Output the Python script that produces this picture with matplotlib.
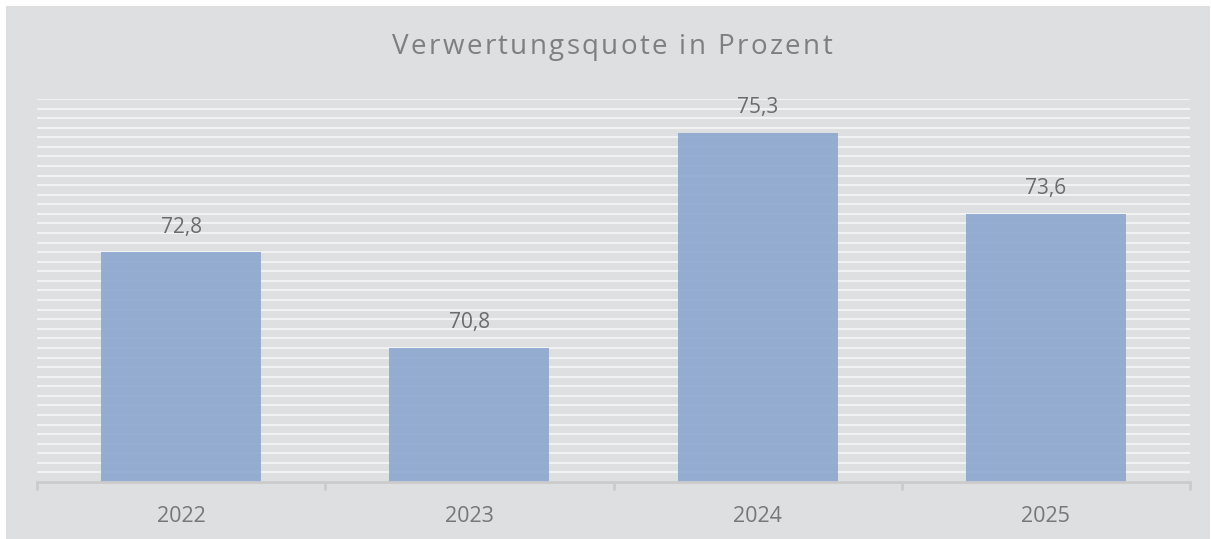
import matplotlib
matplotlib.use("Agg")
import matplotlib.pyplot as plt
from matplotlib.patches import Rectangle
import numpy as np

years = ["2022", "2023", "2024", "2025"]
values = [72.8, 70.8, 75.3, 73.6]
title = "Verwertungsquote in Prozent"
labels = ["72,8", "70,8", "75,3", "73,6"]

W, H = 1211, 539
fig = plt.figure(figsize=(W / 100, H / 100), dpi=100)
fig.patch.set_facecolor("white")
bg = "#DEDFE1"
fig.patches.append(Rectangle((6 / W, 0), (1210 - 6) / W, (H - 6) / H,
                             transform=fig.transFigure, facecolor=bg,
                             edgecolor="none", zorder=-10))

ax = fig.add_axes([37 / W, (H - 482) / H, (1190 - 37) / W, (482 - 99) / H])
ax.set_facecolor("none")
ymin, ymax = 68.0, 76.0
ax.set_ylim(ymin, ymax)
ax.set_xlim(-0.5, len(years) - 0.5)

for yv in np.arange(ymin + 0.2, ymax + 0.001, 0.2):
    ax.axhline(yv, color="#F3F3F4", lw=1.4, zorder=1)

x = np.arange(len(years))
ax.bar(x, [v - ymin for v in values], bottom=ymin, width=0.555,
       color="#8BA7CF", alpha=0.9, zorder=2)

for xi, v, lab in zip(x, values, labels):
    ax.annotate(lab, (xi, v), xytext=(0, 18), textcoords="offset points",
                ha="center", va="center", fontsize=15, color="#6b6b6b",
                family="Open Sans")

for s in ["top", "right", "left"]:
    ax.spines[s].set_visible(False)
ax.spines["bottom"].set_color("#CBCBCB")
ax.spines["bottom"].set_linewidth(2)
ax.set_yticks([])
ax.set_xticks(np.arange(-0.5, len(years), 1.0))
ax.set_xticklabels([])
ax.tick_params(axis="x", length=6, width=2, color="#CBCBCB")
for xi, yr in zip(x, years):
    ax.annotate(yr, (xi, ymin), xytext=(0, -25),
                textcoords="offset points", ha="center", va="center",
                fontsize=15.5, color="#777777", family="Open Sans",
                annotation_clip=False)

# Title with letter spacing
fig.canvas.draw()
renderer = fig.canvas.get_renderer()
tsize = 20
tcol = "#7F7F7F"


def text_width(s):
    t = fig.text(0, 0, s, fontsize=tsize, family="Open Sans")
    w = t.get_window_extent(renderer).width
    t.remove()
    return w


bar_w = text_width("|")
widths = []
for ch in title:
    if ch == " ":
        widths.append(text_width("a a") - text_width("aa"))
    else:
        widths.append(text_width(ch + "|") - bar_w)

target = 832 - 392
spacing = (target - sum(widths)) / (len(title) - 1)
xpos = 392.0
ycen = H - 47
for ch, w in zip(title, widths):
    if ch != " ":
        fig.text(xpos / W, ycen / H, ch, fontsize=tsize, family="Open Sans",
                 color=tcol, ha="left", va="center")
    xpos += w + spacing

fig.savefig("out.png", dpi=100)
